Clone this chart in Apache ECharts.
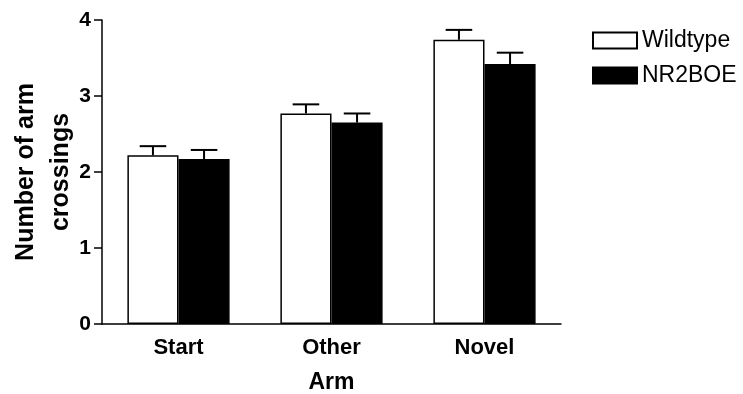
<!DOCTYPE html>
<html><head><meta charset="utf-8">
<script src="https://cdn.jsdelivr.net/npm/echarts@6/dist/echarts.min.js"></script>
<style>html,body{margin:0;padding:0;background:#fff}#c{width:743px;height:394px}</style>
</head><body><div id="c"></div>
<script>
const categories = ['Start', 'Other', 'Novel'];
const wildtype = [2.22, 2.77, 3.74];
const wildtypeErr = [0.12, 0.12, 0.13];
const nr2boe = [2.17, 2.65, 3.42];
const nr2boeErr = [0.12, 0.12, 0.15];
const yTicks = [0, 1, 2, 3, 4];

const FONT = 'Liberation Sans, Arial, sans-serif';
const CAT_GAP = 0.332;

function errSeries(vals, errs, side) {
  return {
    type: 'custom',
    silent: true,
    z: 5,
    data: vals.map((v, i) => [i, v, v + errs[i]]),
    renderItem: function (params, api) {
      const i = api.value(0);
      const band = api.size([1, 0])[0];
      const bw = band * (1 - CAT_GAP) / 2;
      const off = side * bw / 2;
      const p0 = api.coord([i, api.value(1)]);
      const p1 = api.coord([i, api.value(2)]);
      const x = p0[0] + off;
      const cap = bw * 0.26;
      const st = { stroke: '#000', lineWidth: 2 };
      return {
        type: 'group',
        children: [
          { type: 'line', shape: { x1: x, y1: p0[1], x2: x, y2: p1[1] }, style: st },
          { type: 'line', shape: { x1: x - cap, y1: p1[1], x2: x + cap, y2: p1[1] }, style: st }
        ]
      };
    }
  };
}

const chart = echarts.init(document.getElementById('c'));
chart.setOption({
  animation: false,
  backgroundColor: '#fff',
  textStyle: { fontFamily: FONT },
  grid: { left: 102, right: 182, top: 20, bottom: 70, containLabel: false, outerBoundsMode: 'none' },
  legend: {
    data: ['Wildtype', 'NR2BOE'],
    orient: 'vertical',
    left: 587, top: 24,
    itemWidth: 44, itemHeight: 16, itemGap: 12,
    icon: 'rect',
    textStyle: { fontSize: 23, fontFamily: FONT, color: '#000' }
  },
  xAxis: {
    type: 'category',
    data: categories,
    name: 'Arm',
    nameLocation: 'middle',
    nameGap: 47,
    nameMoveOverlap: false,
    nameTextStyle: { fontSize: 23, fontWeight: 'bold', color: '#000', fontFamily: FONT },
    axisLine: { lineStyle: { color: '#000', width: 1.5 } },
    axisTick: { alignWithLabel: true, length: 8, lineStyle: { color: '#000', width: 1.5 } },
    axisLabel: { fontSize: 22, fontWeight: 'bold', color: '#000', margin: 13, fontFamily: FONT }
  },
  yAxis: {
    type: 'value',
    min: 0, max: 4, interval: 1,
    name: 'Number of arm\ncrossings',
    nameLocation: 'middle',
    nameRotate: 90,
    nameGap: 23,
    nameMoveOverlap: false,
    nameTextStyle: { fontSize: 25, fontWeight: 'bold', color: '#000', lineHeight: 35, fontFamily: FONT },
    axisLine: { show: true, lineStyle: { color: '#000', width: 1.5 } },
    axisTick: { show: true, length: 8, lineStyle: { color: '#000', width: 1.5 } },
    splitLine: { show: false },
    axisLabel: {
      fontSize: 21, fontWeight: 'bold', color: '#000', margin: 11, fontFamily: FONT,
      formatter: v => yTicks.includes(v) ? String(v) : ''
    }
  },
  series: [
    {
      name: 'Wildtype', type: 'bar', data: wildtype,
      barGap: '0%', barCategoryGap: (CAT_GAP * 100) + '%',
      itemStyle: { color: '#fff', borderColor: '#000', borderWidth: 1.5 }
    },
    {
      name: 'NR2BOE', type: 'bar', data: nr2boe,
      barGap: '0%', barCategoryGap: (CAT_GAP * 100) + '%',
      itemStyle: { color: '#000', borderColor: '#000', borderWidth: 1.5 }
    },
    errSeries(wildtype, wildtypeErr, -1),
    errSeries(nr2boe, nr2boeErr, 1)
  ]
});
</script>
</body></html>
